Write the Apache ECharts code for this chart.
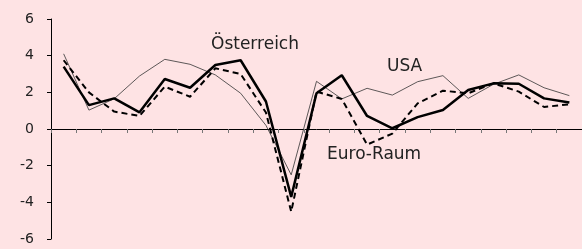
<!DOCTYPE html>
<html>
<head>
<meta charset="utf-8">
<script src="https://cdn.jsdelivr.net/npm/echarts@6/dist/echarts.min.js"></script>
<style>
  html, body { margin: 0; padding: 0; background: #fee3e4; }
  #main { width: 582px; height: 249px; }
</style>
</head>
<body>
<div id="main"></div>
<script>
// Jahre 2000-2020
var years = ['2000','2001','2002','2003','2004','2005','2006','2007','2008','2009','2010',
             '2011','2012','2013','2014','2015','2016','2017','2018','2019','2020'];
var yTicks = [-6, -4, -2, 0, 2, 4, 6];

var oesterreich = [3.4, 1.3, 1.67, 0.91, 2.73, 2.25, 3.49, 3.75, 1.5, -3.7, 1.95,
                   2.93, 0.71, 0.04, 0.65, 1.04, 2.13, 2.49, 2.47, 1.67, 1.45];
var euroRaum    = [3.75, 2.0, 0.95, 0.71, 2.31, 1.76, 3.31, 3.0, 0.9, -4.51, 2.04,
                   1.64, -0.85, -0.25, 1.4, 2.09, 1.95, 2.49, 2.04, 1.2, 1.35];
var usa         = [4.1, 1.03, 1.65, 2.89, 3.8, 3.53, 2.95, 1.95, 0.2, -2.5, 2.6,
                   1.64, 2.22, 1.85, 2.58, 2.91, 1.67, 2.44, 2.95, 2.25, 1.82];

var font = '"DejaVu Sans", sans-serif';
var myChart = echarts.init(document.getElementById('main'));
myChart.setOption({
    backgroundColor: '#fee3e4',
    animation: false,
    grid: { left: 51, top: 19, width: 532, bottom: 10 },
    xAxis: {
        type: 'category',
        data: years,
        boundaryGap: true,
        axisLine: { onZero: true, lineStyle: { color: '#000', width: 1 } },
        axisTick: { show: true, interval: 0, length: 4, lineStyle: { color: '#777' } },
        axisLabel: { show: false },
        splitLine: { show: false }
    },
    yAxis: {
        type: 'value',
        min: yTicks[0],
        max: yTicks[yTicks.length - 1],
        interval: 2,
        axisLine: { show: true, lineStyle: { color: '#000', width: 1 } },
        axisTick: { show: true, length: 4, lineStyle: { color: '#000' } },
        axisLabel: { color: '#222', fontSize: 14, fontFamily: font, margin: 17 },
        splitLine: { show: false }
    },
    series: [
        {
            name: 'USA', type: 'line', data: usa, symbol: 'none',
            lineStyle: { color: '#333', width: 0.8 }
        },
        {
            name: 'Euro-Raum', type: 'line', data: euroRaum, symbol: 'none',
            lineStyle: { color: '#000', width: 2, type: [6, 4] }
        },
        {
            name: 'Österreich', type: 'line', data: oesterreich, symbol: 'none',
            lineStyle: { color: '#000', width: 2.5 }
        }
    ],
    graphic: [
        { type: 'text', left: 211, top: 36, style: { text: 'Österreich', font: '17px ' + font, fill: '#222' } },
        { type: 'text', left: 387, top: 58, style: { text: 'USA', font: '17px ' + font, fill: '#222' } },
        { type: 'text', left: 327, top: 146, style: { text: 'Euro-Raum', font: '17px ' + font, fill: '#222' } }
    ]
});
</script>
</body>
</html>
